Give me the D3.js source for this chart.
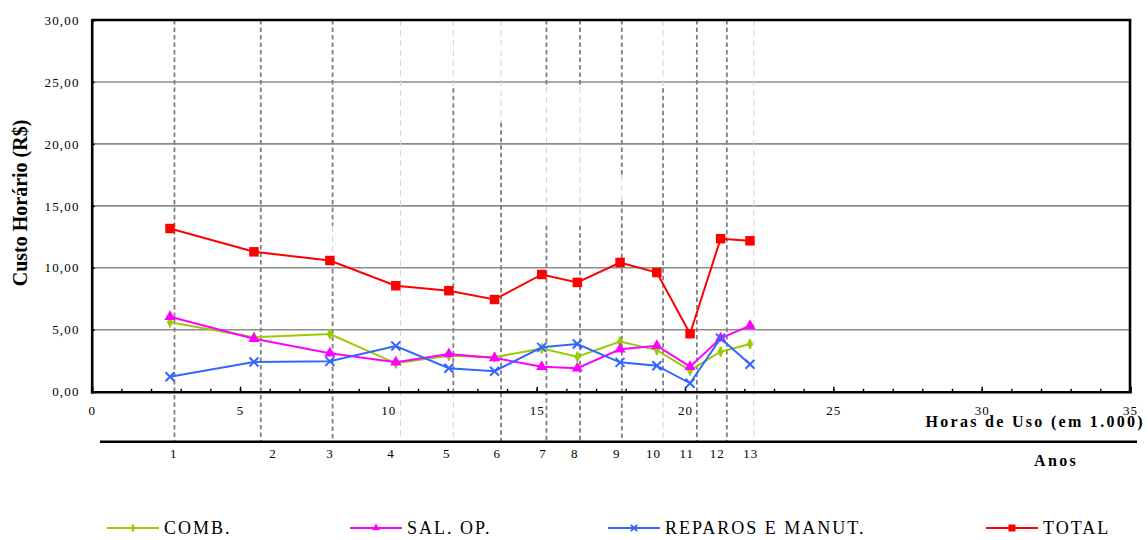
<!DOCTYPE html>
<html>
<head>
<meta charset="utf-8">
<script src="https://cdn.jsdelivr.net/npm/d3@7"></script>
<style>
  html, body { margin: 0; padding: 0; background: #fff; }
  svg { display: block; font-family: "Liberation Serif", "Times New Roman", serif; }
</style>
</head>
<body>
<svg id="chart" width="1148" height="540"></svg>
<script>
// ---------------- DATA ----------------
const hours    = [2.64, 5.47, 8.03, 10.25, 12.04, 13.58, 15.17, 16.37, 17.81, 19.05, 20.17, 21.20, 22.19];
const comb     = [5.60, 4.39, 4.66, 2.29, 2.90, 2.78, 3.49, 2.83, 4.04, 3.36, 1.72, 3.23, 3.85];
const salOp    = [6.05, 4.28, 3.10, 2.37, 3.04, 2.72, 2.02, 1.89, 3.42, 3.71, 2.02, 4.31, 5.33];
const reparos  = [1.21, 2.40, 2.45, 3.69, 1.89, 1.65, 3.58, 3.85, 2.37, 2.10, 0.68, 4.31, 2.21];
const total    = [13.17, 11.29, 10.59, 8.55, 8.15, 7.44, 9.46, 8.82, 10.43, 9.62, 4.68, 12.35, 12.18];

const seriesNames = ["COMB.", "SAL. OP.", "REPAROS E MANUT.", "TOTAL"];

const yTicks = [0, 5, 10, 15, 20, 25, 30];
const xTicks = [0, 5, 10, 15, 20, 25, 30, 35];

const anos          = ["1","2","3","4","5","6","7","8","9","10","11","12","13"];
const anosLineHours = [2.79, 5.70, 8.12, 10.41, 12.19, 13.80, 15.33, 16.46, 17.87, 19.26, 20.40, 21.41, 22.32];
const anosLabelHours= [2.77, 6.11, 8.03, 10.09, 11.97, 13.67, 15.21, 16.28, 17.70, 18.94, 20.06, 21.09, 22.22];

// ---------------- LAYOUT ----------------
const W = 1148, H = 540;
const plot = { left: 91.7, right: 1130, top: 20, bottom: 391.7 };
const anosAxisY = 441.7;

const x = d3.scaleLinear().domain([0, 35]).range([plot.left, plot.right]);
const y = d3.scaleLinear().domain([0, 30]).range([plot.bottom, plot.top]);
// value that maps onto the "Anos" axis line (used for the year guide lines)
const anosLevel = y.invert(anosAxisY);
// year guide-line shading pieces: [from, to, dark?] in R$ units
const TOP = 30, A = anosLevel;
const anosLinePieces = [
  [[TOP, A, 1]],
  [[TOP, A, 1]],
  [[TOP, 13.4, 1], [13.4, 10.5, 0], [10.5, A, 1]],
  [[TOP, A, 0]],
  [[TOP, 24.5, 0], [24.5, 0, 1], [0, A, 0]],
  [[TOP, 21.7, 0], [21.7, A, 1]],
  [[TOP, 24.6, 1], [24.6, 13.4, 0], [13.4, A, 1]],
  [[TOP, 24.6, 1], [24.6, 13.4, 0], [13.4, A, 1]],
  [[TOP, 17.5, 1], [17.5, 15.4, 0], [15.4, A, 1]],
  [[TOP, 24.5, 0], [24.5, 0, 1], [0, A, 0]],
  [[TOP, A, 1]],
  [[TOP, A, 1]],
  [[TOP, A, 0]]
];

const colors = ["#99CC00", "#FF00FF", "#3366FF", "#FF0000"];
const serif = '"Liberation Serif", "Times New Roman", serif';

const svg = d3.select("#chart");
svg.append("rect").attr("width", W).attr("height", H).attr("fill", "#fff");

// ---------------- GRID ----------------
svg.append("g").selectAll("line").data(yTicks.filter(d => d > 0 && d < 30)).join("line")
  .attr("x1", plot.left).attr("x2", plot.right)
  .attr("y1", d => y(d)).attr("y2", d => y(d))
  .attr("stroke", "#8c8c8c").attr("stroke-width", 1.6);

// year guide lines (dashed)
const gl = svg.append("g");
anosLineHours.forEach((h, i) => {
  anosLinePieces[i].forEach(p => {
    gl.append("line")
      .attr("x1", x(h)).attr("x2", x(h))
      .attr("y1", y(p[0])).attr("y2", y(p[1]))
      .attr("stroke", p[2] ? "#7f7f7f" : "#d6d6d6")
      .attr("stroke-width", p[2] ? 1.8 : 1.1)
      .attr("stroke-dasharray", p[2] ? "4.5,3" : "6,4");
  });
});

// ---------------- AXES ----------------
// y axis
const yAxis = d3.axisLeft(y).tickValues(yTicks).tickSize(-3).tickPadding(12)
  .tickFormat(d => d3.format(".2f")(d).replace(".", ","));
const gy = svg.append("g").attr("transform", `translate(${plot.left},0)`).call(yAxis);
gy.select(".domain").attr("stroke", "#000").attr("stroke-width", 2.6);
gy.selectAll(".tick line").attr("stroke", "#000").attr("stroke-width", 1.5);
gy.selectAll(".tick text").attr("font-family", serif).attr("font-size", 13)
  .attr("letter-spacing", "1.2px").attr("fill", "#000").attr("dy", "0.32em");

// x axis (hours) minor ticks
const xMinor = d3.axisBottom(x).ticks(35).tickSize(-3).tickFormat("");
const gxm = svg.append("g").attr("transform", `translate(0,${plot.bottom})`).call(xMinor);
gxm.select(".domain").remove();
gxm.selectAll(".tick line").attr("stroke", "#000").attr("stroke-width", 1.4);

const xAxis = d3.axisBottom(x).tickValues(xTicks).tickSize(-5).tickPadding(14)
  .tickFormat(d3.format("d"));
const gx = svg.append("g").attr("transform", `translate(0,${plot.bottom})`).call(xAxis);
gx.select(".domain").attr("stroke", "#000").attr("stroke-width", 2.6);
gx.selectAll(".tick line").attr("stroke", "#000").attr("stroke-width", 1.4);
gx.selectAll(".tick text").attr("font-family", serif).attr("font-size", 13)
  .attr("letter-spacing", "1px").attr("fill", "#000");

// frame top/right
svg.append("line").attr("x1", plot.left).attr("x2", plot.right + 1.3)
  .attr("y1", plot.top).attr("y2", plot.top).attr("stroke", "#000").attr("stroke-width", 2.6);
svg.append("line").attr("x1", plot.right).attr("x2", plot.right)
  .attr("y1", plot.top).attr("y2", plot.bottom).attr("stroke", "#000").attr("stroke-width", 2.6);

// Anos axis
svg.append("line").attr("x1", 100).attr("x2", 1137)
  .attr("y1", anosAxisY).attr("y2", anosAxisY).attr("stroke", "#000").attr("stroke-width", 2.6);
svg.append("g").selectAll("text").data(anos).join("text")
  .attr("x", (d, i) => x(anosLabelHours[i])).attr("y", anosAxisY + 16)
  .attr("text-anchor", "middle").attr("font-family", serif).attr("font-size", 13)
  .attr("letter-spacing", "1px").text(d => d);

// axis titles
svg.append("text").attr("x", 1145).attr("y", 427).attr("text-anchor", "end")
  .attr("font-family", serif).attr("font-weight", "bold").attr("font-size", 16)
  .attr("letter-spacing", "2.3px").text("Horas de Uso (em 1.000)");
svg.append("text").attr("x", 1078).attr("y", 466).attr("text-anchor", "end")
  .attr("font-family", serif).attr("font-weight", "bold").attr("font-size", 16)
  .attr("letter-spacing", "2.3px").text("Anos");
svg.append("text").attr("transform", "translate(27,203) rotate(-90)")
  .attr("text-anchor", "middle").attr("font-family", serif).attr("font-weight", "bold")
  .attr("font-size", 20).text("Custo Horário (R$)");

// ---------------- SERIES ----------------
const allSeries = [comb, salOp, reparos, total];
const line = d3.line().x(d => x(d[0])).y(d => y(d[1]));

function drawMarker(g, kind, cx, cy, color, s) {
  if (kind === 0) {
    g.append("line").attr("x1", cx).attr("x2", cx).attr("y1", cy - s * 0.5).attr("y2", cy + s * 0.5)
      .attr("stroke", color).attr("stroke-width", 2);
    g.append("path").attr("d", d3.symbol(d3.symbolDiamond, s * s * 0.35)())
      .attr("transform", `translate(${cx},${cy})`).attr("fill", color);
  } else if (kind === 1) {
    g.append("path").attr("d", d3.symbol(d3.symbolTriangle, s * s * 0.55)())
      .attr("transform", `translate(${cx},${cy})`).attr("fill", color);
  } else if (kind === 2) {
    const r = s * 0.45;
    g.append("path").attr("d", `M${cx - r},${cy - r}L${cx + r},${cy + r}M${cx - r},${cy + r}L${cx + r},${cy - r}`)
      .attr("stroke", color).attr("stroke-width", 2).attr("fill", "none");
  } else {
    g.append("rect").attr("x", cx - s / 2).attr("y", cy - s / 2).attr("width", s).attr("height", s)
      .attr("fill", color);
  }
}

allSeries.forEach((vals, k) => {
  const pts = hours.map((h, i) => [h, vals[i]]);
  const g = svg.append("g");
  g.append("path").attr("d", line(pts)).attr("fill", "none")
    .attr("stroke", colors[k]).attr("stroke-width", 2);
  pts.forEach(p => drawMarker(g, k, x(p[0]), y(p[1]), colors[k], k === 3 ? 9.5 : 10));
});

// ---------------- LEGEND ----------------
const legendX = [107, 350, 608, 986];
const legendY = 528;
seriesNames.forEach((name, k) => {
  const g = svg.append("g");
  g.append("line").attr("x1", legendX[k]).attr("x2", legendX[k] + 52)
    .attr("y1", legendY).attr("y2", legendY).attr("stroke", colors[k]).attr("stroke-width", 2.2);
  drawMarker(g, k, legendX[k] + 26, legendY, colors[k], 7);
  g.append("text").attr("x", legendX[k] + 57).attr("y", legendY + 6)
    .attr("font-family", serif).attr("font-size", 18).attr("letter-spacing", "2px")
    .text(name);
});
</script>
</body>
</html>
